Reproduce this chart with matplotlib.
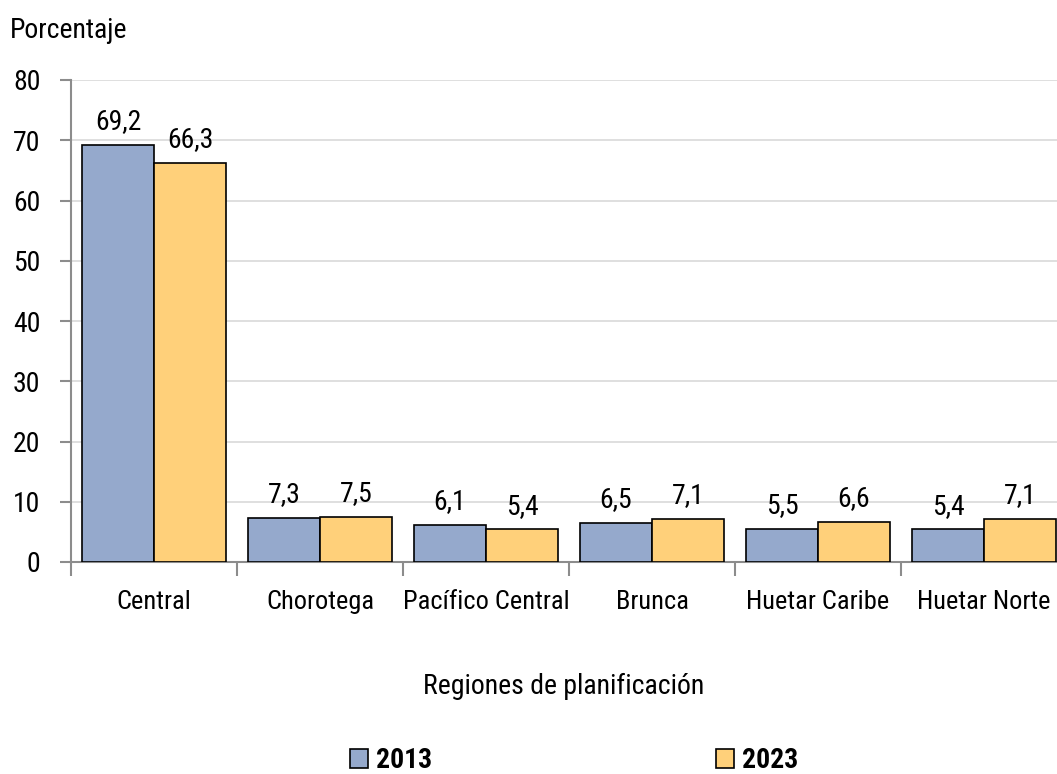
import matplotlib
matplotlib.use("Agg")
import matplotlib.pyplot as plt
import numpy as np

plt.rcParams['font.family'] = ['Liberation Sans Narrow', 'Roboto Condensed', 'Open Sans Condensed', 'DejaVu Sans']

regiones = ["Central", "Chorotega", "Pacífico Central", "Brunca", "Huetar Caribe", "Huetar Norte"]
v2013 = [69.2, 7.3, 6.1, 6.5, 5.5, 5.4]
v2023 = [66.3, 7.5, 5.4, 7.1, 6.6, 7.1]
series = ["2013", "2023"]
colores = ["#95a9cc", "#ffd07a"]

fs = 20

fig = plt.figure(figsize=(10.57, 7.74), dpi=100)
ax = fig.add_axes([71 / 1057, 212 / 774, 996 / 1057, 482 / 774])

x = np.arange(len(regiones))
w = 0.434
for i, (vals, lab, col) in enumerate(zip([v2013, v2023], series, colores)):
    pos = x + (i - 0.5) * w
    ax.bar(pos, vals, width=w, color=col, edgecolor="black", linewidth=1.2, label=lab, zorder=3)
    for px, v in zip(pos, vals):
        ax.annotate(f"{v:.1f}".replace(".", ","), (px, v), xytext=(0, 7), textcoords="offset points",
                    ha="center", va="bottom", fontsize=fs)

ax.set_xlim(-0.5, len(regiones) - 0.5)
ax.set_ylim(0, 80)
ax.set_yticks(range(0, 81, 10))
ax.yaxis.grid(True, color="#d9d9d9", linewidth=1.2, zorder=0)
ax.set_axisbelow(True)

ax.set_xticks(x)
ax.set_xticklabels(regiones, fontsize=19)
ax.set_xticks(np.arange(-0.5, len(regiones), 1), minor=True)
ax.tick_params(axis="x", which="major", length=0, pad=20)
ax.tick_params(axis="x", which="minor", length=10, color="#8c8c8c", width=1.5)
ax.tick_params(axis="y", length=8, color="#8c8c8c", width=1.5, labelsize=fs, pad=14)

for s in ["top", "right"]:
    ax.spines[s].set_visible(False)
for s in ["left", "bottom"]:
    ax.spines[s].set_color("#8c8c8c")
    ax.spines[s].set_linewidth(1.5)

fig.text(10 / 1057, 1 - 30 / 774, "Porcentaje", fontsize=fs, ha="left", va="center")
fig.text(564 / 1057, 1 - 686 / 774, "Regiones de planificación", fontsize=fs, ha="center", va="center")

fig.legend(loc="center", bbox_to_anchor=(574 / 1057, 1 - 761 / 774), ncol=2, frameon=False,
           prop={"size": fs, "weight": "bold"}, handlelength=0.65, handleheight=0.65,
           handletextpad=0.3, columnspacing=10.2)

fig.savefig("out.png", dpi=100)
